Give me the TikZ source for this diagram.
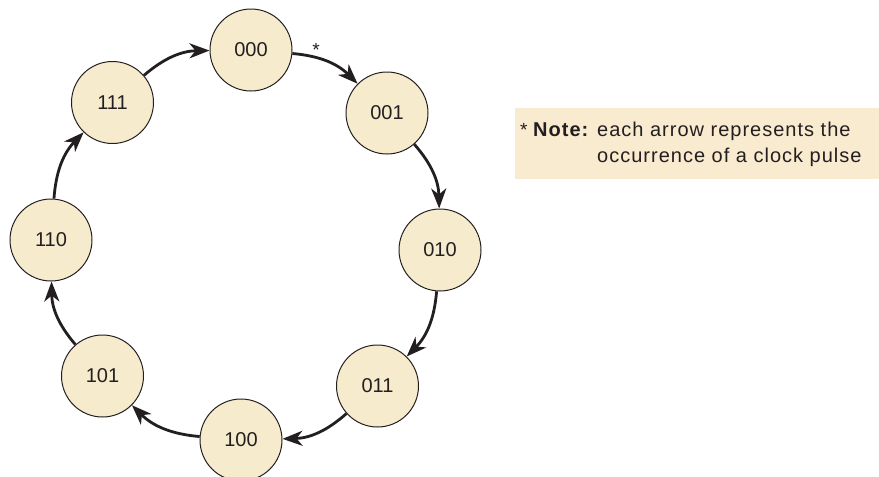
\documentclass[tikz,border=0pt]{standalone}
\usepackage{fontspec}
\setmainfont{Liberation Sans}
\newfontfamily\notefont[LetterSpace=5.0]{Liberation Sans}
\usetikzlibrary{arrows.meta}
\definecolor{statefill}{HTML}{F7EBCE}
\definecolor{notefill}{HTML}{F9EBCF}
\definecolor{ink}{HTML}{231F20}

\begin{document}
\begin{tikzpicture}[x=1pt,y=-1pt,>={Stealth[length=20pt,width=15pt,inset=6pt]},
  state/.style={draw=ink, line width=1pt, circle, fill=statefill, minimum size=82pt, inner sep=0pt, text=ink, font=\fontsize{20}{24}\selectfont},
  pulse/.style={->, draw=ink, line width=2.8pt, bend left=20},
  notetxt/.style={anchor=base west, inner sep=0pt, text=ink, font=\notefont\fontsize{20}{24}\selectfont}]
\useasboundingbox (0,0) rectangle (879,477);
\node[state] (s000) at (251,50) {000};
\node[state] (s001) at (387,113) {001};
\node[state] (s010) at (440,250) {010};
\node[state] (s011) at (377.5,386) {011};
\node[state] (s100) at (241,440) {100};
\node[state] (s101) at (102.5,376) {101};
\node[state] (s110) at (51,240) {110};
\node[state] (s111) at (112.5,102.5) {111};
\draw[pulse] (s000) to (s001);
\draw[pulse] (s001) to (s010);
\draw[pulse] (s010) to (s011);
\draw[pulse] (s011) to (s100);
\draw[pulse] (s100) to (s101);
\draw[pulse] (s101) to (s110);
\draw[pulse] (s110) to (s111);
\draw[pulse] (s111) to (s000);
\node[text=ink, font=\fontsize{19}{22}\selectfont] (star) at (316,50) {*};
% note on the right
\node[fill=notefill, minimum width=364pt, minimum height=71pt, inner sep=0pt] (note) at (697,143.5) {};
\node[notetxt, font=\fontsize{19}{22}\selectfont] (notestar) at (520,136) {*};
\node[notetxt, font=\notefont\bfseries\fontsize{20}{24}\selectfont] (notehead) at (533,136) {Note:};
\node[notetxt] (line1) at (597,136) {each arrow represents the};
\node[notetxt] (line2) at (597,162) {occurrence of a clock pulse};
\end{tikzpicture}
\end{document}
